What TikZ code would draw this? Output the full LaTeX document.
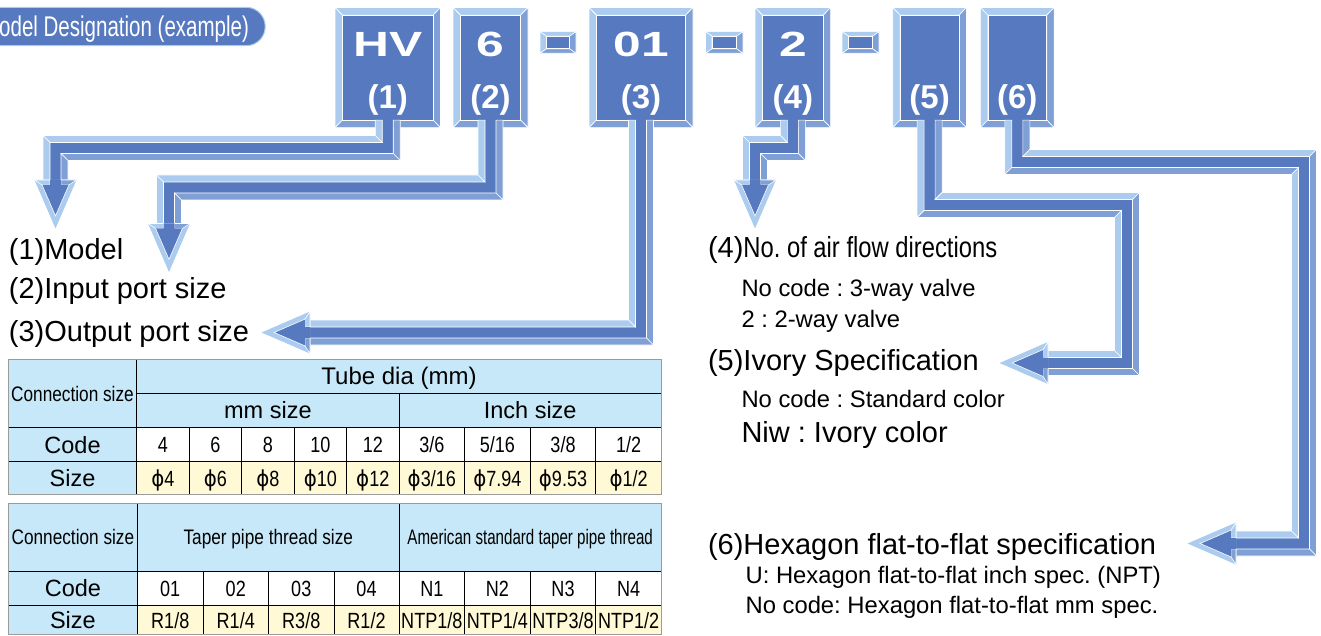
\documentclass[tikz,border=0pt]{standalone}
\usepackage{fontspec}
\setmainfont{Liberation Sans}
\newfontfamily\narrowf[FakeStretch=0.82]{Liberation Sans}
\newfontfamily\narrowx[FakeStretch=0.72]{Liberation Sans}
\newfontfamily\widebf[FakeStretch=1.42]{Liberation Sans}
\newfontfamily\phif[FakeStretch=0.9]{DejaVu Sans}
\newcommand\ph{{\phif ϕ}}
\AtBeginDocument{\frenchspacing}
\definecolor{bevdark}{RGB}{87,121,191}
\definecolor{bevlight}{RGB}{171,204,238}
\definecolor{bevmed}{RGB}{127,159,213}
\definecolor{tblue}{RGB}{198,232,248}
\definecolor{tyel}{RGB}{255,249,214}
\definecolor{tgray}{RGB}{155,155,155}
\def\bvd{5.5}
\def\bvw{12.5}
\tikzset{
  every node/.append style={execute at begin node=\frenchspacing},
  facet/.style={draw=white, line width=0.6pt, line join=miter},
  lbl/.style={inner sep=0pt, anchor=base west},
  val/.style={inner sep=0pt, font=\narrowf\fontsize{22}{26}\selectfont, text height=15.8pt, text depth=0pt},
  hdr/.style={inner sep=0pt, font=\fontsize{23.5}{28}\selectfont, text height=16.8pt, text depth=0pt},
  hdrn/.style={inner sep=0pt, font=\narrowf\fontsize{21}{25}\selectfont, text height=15pt, text depth=0pt},
  tline/.style={black, line width=0.9pt},
  tborder/.style={draw=tgray, line width=1.5pt},
  boxbig/.style={inner sep=0pt, text=white, font=\widebf\bfseries\fontsize{35}{40}\selectfont, text height=25pt, text depth=0pt},
  boxnum/.style={inner sep=0pt, text=white, font=\bfseries\fontsize{33}{38}\selectfont, text height=24pt, text depth=7pt},
  big/.style={lbl, font=\fontsize{29}{34}\selectfont},
  small/.style={lbl, font=\fontsize{23.8}{28}\selectfont},
}
% beveled rectangle: x1 y1 x2 y2 insetx insety
\newcommand\bevrect[6]{%
  \pgfmathsetmacro\brxa{#1+#5}\pgfmathsetmacro\brya{#2+#6}%
  \pgfmathsetmacro\brxb{#3-#5}\pgfmathsetmacro\bryb{#4-#6}%
  \fill[bevlight, facet] (#1,#2) -- (#3,#2) -- (\brxb,\brya) -- (\brxa,\brya) -- cycle;
  \fill[bevlight, facet] (#1,#2) -- (\brxa,\brya) -- (\brxa,\bryb) -- (#1,#4) -- cycle;
  \fill[bevmed, facet] (#3,#2) -- (#3,#4) -- (\brxb,\bryb) -- (\brxb,\brya) -- cycle;
  \fill[bevmed, facet] (#1,#4) -- (\brxa,\bryb) -- (\brxb,\bryb) -- (#3,#4) -- cycle;
  \fill[bevdark, facet] (\brxa,\brya) rectangle (\brxb,\bryb);
}
% beveled side bands of an orthogonal polyline: xs array, ys array, number of segments
\newcommand\bevshaft[3]{%
  \foreach \i in {1,...,#3}{%
    \pgfmathtruncatemacro\bvia{\i-1}%
    \pgfmathtruncatemacro\bvip{max(\i-2,0)}%
    \pgfmathtruncatemacro\bvin{min(\i+1,#3)}%
    \pgfmathsetmacro\bvxa{#1[\bvia]}%
    \pgfmathsetmacro\bvya{#2[\bvia]}%
    \pgfmathsetmacro\bvxb{#1[\i]}%
    \pgfmathsetmacro\bvyb{#2[\i]}%
    \pgfmathsetmacro\bvxp{#1[\bvip]}%
    \pgfmathsetmacro\bvyp{#2[\bvip]}%
    \pgfmathsetmacro\bvxn{#1[\bvin]}%
    \pgfmathsetmacro\bvyn{#2[\bvin]}%
    \pgfmathsetmacro\bvL{abs(\bvxb-\bvxa)+abs(\bvyb-\bvya)}%
    \pgfmathsetmacro\bvtx{(\bvxb-\bvxa)/\bvL}%
    \pgfmathsetmacro\bvty{(\bvyb-\bvya)/\bvL}%
    \pgfmathsetmacro\bvnx{-(\bvty)}%
    \pgfmathsetmacro\bvny{\bvtx}%
    \pgfmathsetmacro\bvLp{max(abs(\bvxa-\bvxp)+abs(\bvya-\bvyp),1)}%
    \pgfmathsetmacro\bvpx{(\bvxa-\bvxp)/\bvLp}%
    \pgfmathsetmacro\bvpy{(\bvya-\bvyp)/\bvLp}%
    \pgfmathsetmacro\bvLn{max(abs(\bvxn-\bvxb)+abs(\bvyn-\bvyb),1)}%
    \pgfmathsetmacro\bvux{(\bvxn-\bvxb)/\bvLn}%
    \pgfmathsetmacro\bvuy{(\bvyn-\bvyb)/\bvLn}%
    \foreach \bvs in {1,-1}{%
      \pgfmathsetmacro\bvks{(\bvs)*((\bvnx)*(\bvpx)+(\bvny)*(\bvpy))}%
      \pgfmathsetmacro\bvke{-(\bvs)*((\bvnx)*(\bvux)+(\bvny)*(\bvuy))}%
      \pgfmathtruncatemacro\bvlt{((\bvs)*(\bvnx)+(\bvs)*(\bvny))<0}%
      \pgfmathsetmacro\bvPx{\bvxa+(\bvs)*\bvd*(\bvnx)-(\bvtx)*\bvd*(\bvks)}%
      \pgfmathsetmacro\bvPy{\bvya+(\bvs)*\bvd*(\bvny)-(\bvty)*\bvd*(\bvks)}%
      \pgfmathsetmacro\bvQx{\bvxb+(\bvs)*\bvd*(\bvnx)+(\bvtx)*\bvd*(\bvke)}%
      \pgfmathsetmacro\bvQy{\bvyb+(\bvs)*\bvd*(\bvny)+(\bvty)*\bvd*(\bvke)}%
      \pgfmathsetmacro\bvRx{\bvxb+(\bvs)*\bvw*(\bvnx)+(\bvtx)*\bvw*(\bvke)}%
      \pgfmathsetmacro\bvRy{\bvyb+(\bvs)*\bvw*(\bvny)+(\bvty)*\bvw*(\bvke)}%
      \pgfmathsetmacro\bvSx{\bvxa+(\bvs)*\bvw*(\bvnx)-(\bvtx)*\bvw*(\bvks)}%
      \pgfmathsetmacro\bvSy{\bvya+(\bvs)*\bvw*(\bvny)-(\bvty)*\bvw*(\bvks)}%
      \ifnum\bvlt=1 \def\bvfc{bevlight}\else\def\bvfc{bevmed}\fi
      \fill[fill=\bvfc, facet] (\bvPx,\bvPy) -- (\bvQx,\bvQy) -- (\bvRx,\bvRy) -- (\bvSx,\bvSy) -- cycle;
    }%
  }%
}
% arrow head: base centre x, y, direction tx, ty
\newcommand\bevhead[4]{%
  \pgfmathsetmacro\bhnx{-(#4)}%
  \pgfmathsetmacro\bhny{#3}%
  \coordinate (hA) at ({#1+21*(\bhnx)},{#2+21*(\bhny)});
  \coordinate (hB) at ({#1-21*(\bhnx)},{#2-21*(\bhny)});
  \coordinate (hC) at ({#1+48.5*(#3)},{#2+48.5*(#4)});
  \coordinate (hAi) at ({#1+5*(#3)+13.4*(\bhnx)},{#2+5*(#4)+13.4*(\bhny)});
  \coordinate (hBi) at ({#1+5*(#3)-13.4*(\bhnx)},{#2+5*(#4)-13.4*(\bhny)});
  \coordinate (hCi) at ({#1+35.9*(#3)},{#2+35.9*(#4)});
  \coordinate (hDa) at ({#1+\bvd*(\bhnx)},{#2+\bvd*(\bhny)});
  \coordinate (hDb) at ({#1-\bvd*(\bhnx)},{#2-\bvd*(\bhny)});
  \coordinate (hEa) at ({#1+5*(#3)+\bvd*(\bhnx)},{#2+5*(#4)+\bvd*(\bhny)});
  \coordinate (hEb) at ({#1+5*(#3)-\bvd*(\bhnx)},{#2+5*(#4)-\bvd*(\bhny)});
  \fill[bevlight] (hA) -- (hC) -- (hB) -- cycle;
  \pgfmathtruncatemacro\bhlt{((\bhnx)+(\bhny))<0}%
  \ifnum\bhlt=1 \def\bhca{bevlight}\def\bhcb{bevmed}\else\def\bhca{bevmed}\def\bhcb{bevlight}\fi
  \fill[fill=\bhca, facet] (hDa) -- (hA) -- (hAi) -- (hEa) -- cycle;
  \fill[fill=\bhcb, facet] (hDb) -- (hB) -- (hBi) -- (hEb) -- cycle;
  \fill[bevdark] (hDa) -- (hEa) -- (hAi) -- (hCi) -- (hBi) -- (hEb) -- (hDb) -- cycle;
  \draw[white, line width=0.6pt] (hAi) -- (hCi) -- (hBi);
}
\begin{document}
\begin{tikzpicture}[x=1pt,y=-1pt]
\useasboundingbox (0,0) rectangle (1321,636);

% ---------- title ----------
\fill[bevdark, draw=bevlight, line width=1pt, rounded corners=19pt] (-40,7.3) rectangle (265.2,45.7);
\node[lbl, text=white, font=\narrowx\fontsize{28.5}{32}\selectfont] (title) at (-1,36.5) {odel Designation (example)};

% ---------- code boxes ----------
\bevrect{335}{7.5}{440.5}{127.7}{7.5}{7.7}
\bevrect{453}{7.5}{528}{127.7}{7.5}{7.7}
\bevrect{540}{31.7}{576}{53.3}{6.5}{4.5}
\bevrect{589}{7.5}{693}{127.7}{7.5}{7.7}
\bevrect{705.5}{31.7}{743}{53.3}{6.5}{4.5}
\bevrect{755}{7.5}{830.7}{127.7}{7.5}{7.7}
\bevrect{842}{31.7}{879}{53.3}{6.5}{4.5}
\bevrect{892.7}{7.5}{966.5}{127.7}{7.5}{7.7}
\bevrect{980.4}{7.5}{1054.2}{127.7}{7.5}{7.7}

\node[boxbig] (c1) at (387.75,44.2) {HV};
\node[boxbig] (c2) at (490.5,44.2) {6};
\node[boxbig] (c3) at (641,44.2) {01};
\node[boxbig] (c4) at (792.85,44.2) {2};
\node[boxnum] (n1) at (387.75,100) {(1)};
\node[boxnum] (n2) at (490.5,100) {(2)};
\node[boxnum] (n3) at (641,100) {(3)};
\node[boxnum] (n4) at (792.85,100) {(4)};
\node[boxnum] (n5) at (929.6,100) {(5)};
\node[boxnum] (n6) at (1017.3,100) {(6)};

% ---------- arrows ----------
% (1)
\draw[bevdark, line width=11pt] (387.75,120.2) -- (387.75,148) -- (55.5,148) -- (55.5,180);
\bevshaft{{387.75,387.75,55.5,55.5}}{{120.2,148,148,180}}{3}
\bevhead{55.5}{180}{0}{1}
% (2)
\draw[bevdark, line width=11pt] (490.5,120.2) -- (490.5,187.5) -- (169,187.5) -- (169,223.5);
\bevshaft{{490.5,490.5,169,169}}{{120.2,187.5,187.5,223.5}}{3}
\bevhead{169}{223.5}{0}{1}
% (3)
\draw[bevdark, line width=11pt] (641,120.2) -- (641,332.5) -- (310,332.5);
\bevshaft{{641,641,310}}{{120.2,332.5,332.5}}{2}
\bevhead{310}{332.5}{-1}{0}
% (4)
\draw[bevdark, line width=11pt] (792.85,120.2) -- (792.85,148) -- (755,148) -- (755,180);
\bevshaft{{792.85,792.85,755,755}}{{120.2,148,148,180}}{3}
\bevhead{755}{180}{0}{1}
% (5)
\draw[bevdark, line width=11pt] (929.6,120.2) -- (929.6,205) -- (1127,205) -- (1127,363) -- (1048,363);
\bevshaft{{929.6,929.6,1127,1127,1048}}{{120.2,205,205,363,363}}{4}
\bevhead{1048}{363}{-1}{0}
% (6)
\draw[bevdark, line width=11pt] (1017.3,120.2) -- (1017.3,162) -- (1304,162) -- (1304,543.5) -- (1236,543.5);
\bevshaft{{1017.3,1017.3,1304,1304,1236}}{{120.2,162,162,543.5,543.5}}{4}
\bevhead{1236}{543.5}{-1}{0}

% ---------- left labels ----------
\node[big] (m1) at (8.7,259.3) {(1)Model};
\node[big] (m2) at (8.7,298) {(2)Input port size};
\node[big] (m3) at (8.7,341.7) {(3)Output port size};

% ---------- right labels ----------
\node[big] (m4) at (707.8,258) {(4){\narrowf No. of air flow directions}};
\node[small] (m4a) at (741.3,296) {No code : 3-way valve};
\node[small] (m4b) at (741.3,327) {2 : 2-way valve};
\node[big] (m5) at (707.8,370) {(5)Ivory Specification};
\node[small] (m5a) at (741.3,407.7) {No code : Standard color};
\node[big] (m5b) at (741.3,442.7) {Niw : Ivory color};
\node[big] (m6) at (707.8,554) {(6)Hexagon flat-to-flat specification};
\node[small] (m6a) at (745.4,583) {U: Hexagon flat-to-flat inch spec. (NPT)};
\node[small] (m6b) at (745.4,613) {No code: Hexagon flat-to-flat mm spec.};

% ---------- table 1 ----------
\fill[tblue] (8.3,359.3) rectangle (661.4,427.7);
\fill[tblue] (8.3,427.7) rectangle (136.7,494.5);
\fill[white] (136.7,427.7) rectangle (661.4,461.7);
\fill[tyel] (136.7,461.7) rectangle (661.4,494.5);
\draw[tline] (136.7,359.3) -- (136.7,494.5);
\draw[tline] (136.7,393.3) -- (661.4,393.3);
\draw[tline] (8.3,427.7) -- (661.4,427.7);
\draw[tline] (8.3,461.7) -- (661.4,461.7);
\draw[tline] (399,393.3) -- (399,494.5);
\foreach \x in {189.2,241.7,294.1,346.6,464.6,530.2,595.8} \draw[tline] (\x,427.7) -- (\x,494.5);
\draw[tborder] (8.3,359.3) rectangle (661.4,494.5);

\node[hdrn] (a-conn) at (72.5,393.5) {Connection size};
\node[hdr, font=\fontsize{24}{28}\selectfont, text height=17.2pt] (a-tube) at (399,376.3) {Tube dia (mm)};
\node[hdr] (a-mm) at (267.9,410.5) {mm size};
\node[hdr] (a-inch) at (530.2,410.5) {Inch size};
\node[hdr] (a-code) at (72.5,444.7) {Code};
\node[hdr] (a-size) at (72.5,478.1) {Size};
\node[val] (a-c1) at (162.95,444.7) {4};
\node[val] (a-c2) at (215.45,444.7) {6};
\node[val] (a-c3) at (267.9,444.7) {8};
\node[val] (a-c4) at (320.35,444.7) {10};
\node[val] (a-c5) at (372.8,444.7) {12};
\node[val] (a-c6) at (431.8,444.7) {3/6};
\node[val] (a-c7) at (497.4,444.7) {5/16};
\node[val] (a-c8) at (563,444.7) {3/8};
\node[val] (a-c9) at (628.6,444.7) {1/2};
\node[val] (a-s1) at (162.95,478.1) {\ph4};
\node[val] (a-s2) at (215.45,478.1) {\ph6};
\node[val] (a-s3) at (267.9,478.1) {\ph8};
\node[val] (a-s4) at (320.35,478.1) {\ph10};
\node[val] (a-s5) at (372.8,478.1) {\ph12};
\node[val] (a-s6) at (431.8,478.1) {\ph3/16};
\node[val] (a-s7) at (497.4,478.1) {\ph7.94};
\node[val] (a-s8) at (563,478.1) {\ph9.53};
\node[val] (a-s9) at (628.6,478.1) {\ph1/2};

% ---------- table 2 ----------
\fill[tblue] (8.3,503.3) rectangle (661.4,571);
\fill[tblue] (8.3,571) rectangle (137.5,634.5);
\fill[white] (137.5,571) rectangle (661.4,605.7);
\fill[tyel] (137.5,605.7) rectangle (661.4,634.5);
\draw[tline] (137.5,503.3) -- (137.5,634.5);
\draw[tline] (399,503.3) -- (399,634.5);
\draw[tline] (8.3,571) -- (661.4,571);
\draw[tline] (8.3,605.7) -- (661.4,605.7);
\foreach \x in {203,268.5,334,464.6,530.2,595.8} \draw[tline] (\x,571) -- (\x,634.5);
\draw[tborder] (8.3,503.3) rectangle (661.4,634.5);

\node[hdrn] (b-conn) at (72.9,537.2) {Connection size};
\node[hdrn] (b-taper) at (268.3,537.2) {Taper pipe thread size};
\node[hdrn, font=\narrowx\fontsize{21}{25}\selectfont] (b-amer) at (530.2,537.2) {American standard taper pipe thread};
\node[hdr] (b-code) at (72.9,588.4) {Code};
\node[hdr] (b-size) at (72.9,620.3) {Size};
\node[val] (b-c1) at (170.25,588.4) {01};
\node[val] (b-c2) at (235.75,588.4) {02};
\node[val] (b-c3) at (301.25,588.4) {03};
\node[val] (b-c4) at (366.5,588.4) {04};
\node[val] (b-c5) at (431.8,588.4) {N1};
\node[val] (b-c6) at (497.4,588.4) {N2};
\node[val] (b-c7) at (563,588.4) {N3};
\node[val] (b-c8) at (628.6,588.4) {N4};
\node[val] (b-s1) at (170.25,620.3) {R1/8};
\node[val] (b-s2) at (235.75,620.3) {R1/4};
\node[val] (b-s3) at (301.25,620.3) {R3/8};
\node[val] (b-s4) at (366.5,620.3) {R1/2};
\node[val] (b-s5) at (431.8,620.3) {NTP1/8};
\node[val] (b-s6) at (497.4,620.3) {NTP1/4};
\node[val] (b-s7) at (563,620.3) {NTP3/8};
\node[val] (b-s8) at (628.6,620.3) {NTP1/2};
\end{tikzpicture}
\end{document}
